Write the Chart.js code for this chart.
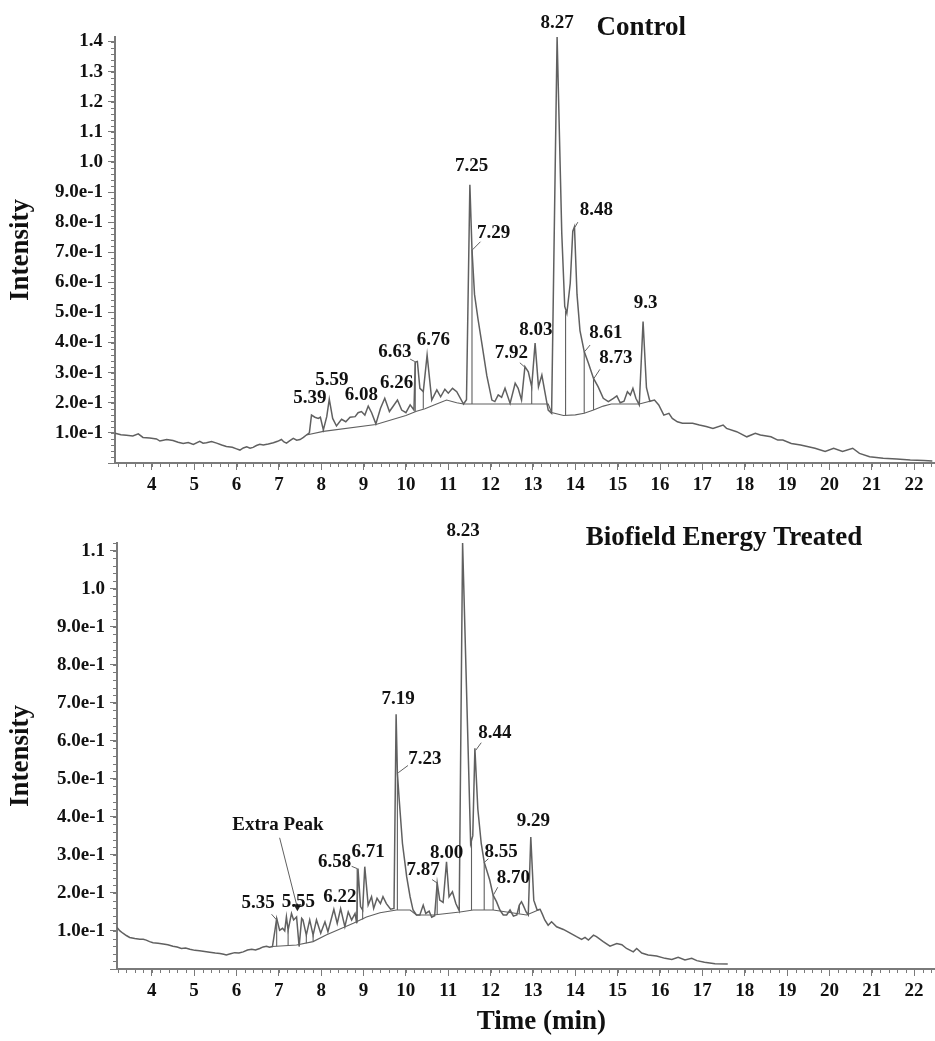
<!DOCTYPE html>
<html>
<head>
<meta charset="utf-8">
<title>GC-MS chromatogram - control vs treated</title>
<script src="https://cdn.jsdelivr.net/npm/chart.js@4.4.1/dist/chart.umd.min.js"></script>
<style>
    body { margin: 0; background: #fff; }
    .panel { position: absolute; left: 0; }
    #topPanel { top: 0; }
    #bottomPanel { top: 500px; }
</style>
</head>
<body>
<div class="panel" id="topPanel"><canvas id="controlChart" width="935" height="500"></canvas></div>
<div class="panel" id="bottomPanel"><canvas id="treatedChart" width="935" height="541"></canvas></div>

<script>
// ---- Control trace (time in min, intensity) ----
const controlTime = [
    3.13, 3.27, 3.40, 3.55, 3.68, 3.79, 3.95, 4.11, 4.19, 4.35, 4.50, 4.62, 4.74, 4.86, 4.98, 5.13,
    5.21, 5.29, 5.41, 5.53, 5.65, 5.76, 5.90, 6.00, 6.08, 6.16, 6.24, 6.32, 6.39, 6.47, 6.55, 6.63,
    6.75, 6.87, 6.97, 7.06, 7.12, 7.18, 7.26, 7.34, 7.42, 7.50, 7.58, 7.65, 7.72, 7.77, 7.85, 7.93,
    7.98, 8.05, 8.13, 8.19, 8.27, 8.36, 8.48, 8.58, 8.68, 8.80, 8.87, 8.95, 9.03, 9.11, 9.19, 9.29,
    9.40, 9.50, 9.61, 9.69, 9.80, 9.90, 10.00, 10.10, 10.19, 10.22, 10.27, 10.33, 10.41, 10.50, 10.61, 10.73,
    10.82, 10.92, 11.00, 11.10, 11.20, 11.36, 11.43, 11.51, 11.56, 11.62, 11.70, 11.79, 11.91, 12.03, 12.10, 12.18,
    12.26, 12.34, 12.46, 12.58, 12.65, 12.73, 12.81, 12.89, 12.97, 13.05, 13.13, 13.21, 13.28, 13.36, 13.44, 13.57,
    13.68, 13.75, 13.80, 13.88, 13.94, 13.98, 14.04, 14.11, 14.21, 14.31, 14.43, 14.54, 14.66, 14.78, 14.90, 14.98,
    15.06, 15.15, 15.23, 15.30, 15.36, 15.43, 15.51, 15.60, 15.68, 15.76, 15.87, 15.97, 16.09, 16.21, 16.29, 16.41,
    16.53, 16.77, 16.93, 17.09, 17.25, 17.49, 17.57, 17.81, 18.05, 18.25, 18.37, 18.62, 18.78, 18.90, 19.10, 19.32,
    19.66, 19.90, 20.10, 20.31, 20.55, 20.71, 20.95, 21.27, 21.59, 21.91, 22.23, 22.43
];
const controlIntensity = [
    0.099, 0.094, 0.092, 0.090, 0.097, 0.085, 0.083, 0.080, 0.073, 0.078, 0.075, 0.069, 0.065, 0.068, 0.062, 0.072,
    0.066, 0.067, 0.071, 0.066, 0.060, 0.055, 0.052, 0.047, 0.043, 0.050, 0.054, 0.049, 0.052, 0.058, 0.062, 0.060,
    0.063, 0.067, 0.072, 0.078, 0.070, 0.066, 0.074, 0.082, 0.076, 0.078, 0.085, 0.093, 0.100, 0.159, 0.152, 0.148,
    0.152, 0.110, 0.154, 0.212, 0.148, 0.123, 0.145, 0.137, 0.152, 0.154, 0.167, 0.171, 0.159, 0.189, 0.167, 0.130,
    0.182, 0.215, 0.171, 0.187, 0.209, 0.176, 0.167, 0.193, 0.176, 0.335, 0.337, 0.248, 0.237, 0.359, 0.209, 0.243,
    0.220, 0.245, 0.232, 0.248, 0.237, 0.196, 0.210, 0.924, 0.708, 0.560, 0.480, 0.400, 0.290, 0.209, 0.204, 0.226,
    0.218, 0.248, 0.198, 0.265, 0.248, 0.209, 0.320, 0.303, 0.253, 0.398, 0.253, 0.292, 0.237, 0.176, 0.165, 1.415,
    0.763, 0.520, 0.497, 0.597, 0.770, 0.785, 0.560, 0.440, 0.370, 0.331, 0.281, 0.253, 0.215, 0.204, 0.215, 0.223,
    0.200, 0.205, 0.237, 0.226, 0.248, 0.215, 0.193, 0.470, 0.250, 0.205, 0.209, 0.193, 0.159, 0.165, 0.148, 0.137,
    0.132, 0.132, 0.126, 0.121, 0.115, 0.126, 0.115, 0.104, 0.087, 0.099, 0.093, 0.087, 0.076, 0.076, 0.065, 0.060,
    0.049, 0.038, 0.049, 0.038, 0.049, 0.032, 0.021, 0.016, 0.013, 0.010, 0.008, 0.007
];
// integration baseline under the peaks
const controlBaseTime = [7.65, 8.05, 9.29, 10.00, 10.25, 10.45, 10.65, 10.96, 11.20, 11.36, 13.36, 13.44, 13.72, 14.00, 14.21, 14.43, 14.66, 14.85, 15.51, 15.76];
const controlBaseIntensity = [0.093, 0.105, 0.128, 0.158, 0.172, 0.180, 0.192, 0.209, 0.200, 0.196, 0.196, 0.168, 0.158, 0.160, 0.165, 0.176, 0.189, 0.196, 0.196, 0.205];
// peak cut lines (trace down to baseline)
const controlDropTime = [8.05, 10.22, 10.41, 11.56, 12.97, 13.77, 14.21, 14.43];
const controlDropTop = [0.110, 0.335, 0.237, 0.708, 0.253, 0.505, 0.370, 0.281];
const controlDropBottom = [0.105, 0.172, 0.180, 0.196, 0.196, 0.158, 0.165, 0.176];
// retention time labels
const controlPeakNames = ['5.39', '5.59', '6.08', '6.26', '6.63', '6.76', '7.25', '7.29', '7.92', '8.03', '8.27', '8.48', '8.61', '8.73', '9.3'];
const controlPeakTime = [7.73, 8.25, 8.95, 9.78, 9.74, 10.65, 11.55, 12.07, 12.49, 13.07, 13.57, 14.50, 14.72, 14.96, 15.66];
const controlPeakLevel = [0.215, 0.276, 0.226, 0.265, 0.370, 0.409, 0.985, 0.763, 0.364, 0.442, 1.460, 0.840, 0.431, 0.348, 0.531];

// ---- Biofield Energy Treated trace ----
const treatedTime = [
    3.18, 3.25, 3.32, 3.40, 3.48, 3.60, 3.72, 3.80, 3.87, 3.95, 4.03, 4.15, 4.27, 4.38, 4.50, 4.60,
    4.70, 4.80, 4.90, 5.02, 5.13, 5.25, 5.37, 5.50, 5.61, 5.70, 5.76, 5.86, 5.96, 6.06, 6.16, 6.26,
    6.36, 6.45, 6.55, 6.63, 6.71, 6.78, 6.85, 6.91, 6.95, 7.02, 7.09, 7.14, 7.18, 7.22, 7.30, 7.35,
    7.42, 7.48, 7.54, 7.57, 7.65, 7.73, 7.81, 7.89, 7.99, 8.09, 8.16, 8.30, 8.38, 8.46, 8.56, 8.64,
    8.72, 8.80, 8.84, 8.87, 8.93, 8.98, 9.03, 9.11, 9.19, 9.24, 9.32, 9.40, 9.46, 9.54, 9.64, 9.72,
    9.77, 9.80, 9.84, 9.92, 10.02, 10.10, 10.17, 10.25, 10.33, 10.41, 10.47, 10.55, 10.61, 10.68, 10.74, 10.80,
    10.88, 10.96, 11.02, 11.10, 11.18, 11.26, 11.34, 11.53, 11.58, 11.63, 11.70, 11.78, 11.85, 11.98, 12.06, 12.14,
    12.22, 12.30, 12.38, 12.46, 12.54, 12.62, 12.68, 12.73, 12.77, 12.84, 12.89, 12.95, 13.02, 13.10, 13.17, 13.22,
    13.28, 13.36, 13.44, 13.56, 13.72, 13.87, 14.03, 14.15, 14.23, 14.31, 14.43, 14.50, 14.66, 14.82, 14.98, 15.10,
    15.21, 15.37, 15.45, 15.57, 15.72, 15.92, 16.12, 16.28, 16.43, 16.59, 16.75, 16.87, 17.05, 17.30, 17.60
];
const treatedIntensity = [
    0.109, 0.100, 0.094, 0.088, 0.083, 0.080, 0.078, 0.078, 0.076, 0.072, 0.069, 0.068, 0.066, 0.064, 0.060, 0.058,
    0.054, 0.055, 0.052, 0.049, 0.048, 0.046, 0.044, 0.042, 0.041, 0.039, 0.037, 0.040, 0.043, 0.042, 0.045, 0.050,
    0.052, 0.050, 0.054, 0.058, 0.060, 0.057, 0.059, 0.102, 0.133, 0.102, 0.107, 0.100, 0.137, 0.102, 0.146, 0.129,
    0.137, 0.059, 0.133, 0.129, 0.089, 0.129, 0.089, 0.129, 0.094, 0.124, 0.098, 0.157, 0.120, 0.159, 0.111, 0.150,
    0.129, 0.146, 0.120, 0.264, 0.164, 0.155, 0.269, 0.168, 0.190, 0.159, 0.186, 0.172, 0.190, 0.172, 0.157, 0.159,
    0.670, 0.516, 0.450, 0.330, 0.242, 0.190, 0.155, 0.142, 0.142, 0.168, 0.146, 0.152, 0.136, 0.140, 0.226, 0.181,
    0.175, 0.282, 0.190, 0.203, 0.172, 0.153, 1.120, 0.330, 0.350, 0.580, 0.420, 0.330, 0.281, 0.234, 0.194, 0.177,
    0.155, 0.142, 0.142, 0.155, 0.139, 0.142, 0.168, 0.177, 0.168, 0.150, 0.142, 0.347, 0.181, 0.155, 0.157, 0.145,
    0.129, 0.115, 0.124, 0.111, 0.104, 0.095, 0.085, 0.078, 0.083, 0.076, 0.089, 0.085, 0.072, 0.060, 0.067, 0.064,
    0.054, 0.045, 0.054, 0.042, 0.037, 0.034, 0.028, 0.025, 0.031, 0.024, 0.028, 0.022, 0.018, 0.014, 0.013
];
const treatedBaseTime = [6.85, 7.42, 7.81, 8.13, 8.50, 8.76, 9.07, 9.39, 9.78, 10.10, 10.25, 10.65, 11.28, 11.59, 12.06, 12.50, 12.85, 13.17];
const treatedBaseIntensity = [0.059, 0.063, 0.072, 0.090, 0.108, 0.120, 0.137, 0.148, 0.155, 0.155, 0.142, 0.142, 0.150, 0.155, 0.155, 0.148, 0.142, 0.157];
const treatedDropTime = [6.95, 7.22, 7.65, 7.81, 8.85, 8.98, 9.80, 10.74, 11.55, 11.85, 12.06, 12.68];
const treatedDropTop = [0.133, 0.102, 0.089, 0.089, 0.264, 0.155, 0.516, 0.226, 0.340, 0.281, 0.194, 0.168];
const treatedDropBottom = [0.060, 0.062, 0.068, 0.072, 0.122, 0.130, 0.155, 0.143, 0.155, 0.155, 0.155, 0.146];
const treatedPeakNames = ['Extra Peak', '5.35', '5.55', '6.22', '6.58', '6.71', '7.19', '7.23', '7.87', '8.00', '8.23', '8.44', '8.55', '8.70', '9.29'];
const treatedPeakTime = [6.98, 6.51, 7.46, 8.44, 8.32, 9.11, 9.82, 10.45, 10.41, 10.96, 11.35, 12.10, 12.25, 12.54, 13.01];
const treatedPeakLevel = [0.378, 0.172, 0.177, 0.190, 0.282, 0.308, 0.710, 0.552, 0.260, 0.304, 1.150, 0.620, 0.308, 0.238, 0.389];

// ---- layout / look ----
const traceColor = '#606060';
const axisColor = '#7a7a7a';
const inkColor = '#111';
const serif = '"Liberation Serif", "Times New Roman", serif';

// leader lines [t1, v1, t2, v2] from label to peak
const controlLeaders = [
    [10.10, 0.345, 10.21, 0.337],
    [11.76, 0.735, 11.57, 0.708],
    [12.69, 0.333, 12.81, 0.318],
    [14.06, 0.800, 13.99, 0.783],
    [14.35, 0.392, 14.22, 0.370],
    [14.58, 0.311, 14.44, 0.281]
];
const treatedLeaders = [
    [7.02, 0.345, 7.43, 0.165],
    [6.83, 0.144, 6.94, 0.130],
    [8.72, 0.270, 8.85, 0.264],
    [10.05, 0.535, 9.82, 0.516],
    [10.62, 0.235, 10.74, 0.226],
    [11.78, 0.595, 11.65, 0.575],
    [11.95, 0.290, 11.86, 0.281],
    [12.17, 0.215, 12.07, 0.195]
];

function toPoints(xs, ys) {
    return xs.map((x, i) => ({ x: x, y: ys[i] }));
}

function dropPoints(times, tops, bottoms) {
    const pts = [];
    times.forEach((t, i) => {
        pts.push({ x: t, y: tops[i] });
        pts.push({ x: t, y: bottoms[i] });
        pts.push({ x: t, y: null });
    });
    return pts;
}

function yTickLabel(value) {
    if (value < 0.05) return '';
    if (value >= 0.999) return value.toFixed(1);
    return value.toExponential(1);
}

// minor ticks, peak labels, leaders and panel titles
function makeDecor(cfg) {
    return {
        id: 'chromDecor',
        afterDraw(chart) {
            const ctx = chart.ctx;
            const xs = chart.scales.x;
            const ys = chart.scales.y;
            const area = chart.chartArea;
            ctx.save();

            ctx.strokeStyle = axisColor;
            ctx.lineWidth = 1;
            ctx.beginPath();
            for (let i = Math.ceil(xs.min * 5); i <= Math.floor(xs.max * 5); i++) {
                const px = Math.round(xs.getPixelForValue(i / 5)) + 0.5;
                ctx.moveTo(px, area.bottom);
                ctx.lineTo(px, area.bottom + 4);
            }
            for (let i = 1; i <= Math.floor(ys.max * 50); i++) {
                const py = Math.round(ys.getPixelForValue(i / 50)) + 0.5;
                ctx.moveTo(area.left, py);
                ctx.lineTo(area.left - 4, py);
            }
            ctx.stroke();

            ctx.strokeStyle = traceColor;
            ctx.lineWidth = 1;
            ctx.beginPath();
            cfg.leaders.forEach((l) => {
                ctx.moveTo(xs.getPixelForValue(l[0]), ys.getPixelForValue(l[1]));
                ctx.lineTo(xs.getPixelForValue(l[2]), ys.getPixelForValue(l[3]));
            });
            ctx.stroke();

            if (cfg.arrowAt) {
                const ax = xs.getPixelForValue(cfg.arrowAt[0]);
                const ay = ys.getPixelForValue(cfg.arrowAt[1]);
                ctx.fillStyle = '#222';
                ctx.beginPath();
                ctx.moveTo(ax - 4, ay - 7);
                ctx.lineTo(ax + 4, ay - 7);
                ctx.lineTo(ax, ay);
                ctx.closePath();
                ctx.fill();
            }

            ctx.fillStyle = inkColor;
            ctx.textAlign = 'center';
            ctx.textBaseline = 'middle';
            ctx.font = 'bold 19px ' + serif;
            cfg.names.forEach((name, i) => {
                ctx.fillText(name, xs.getPixelForValue(cfg.times[i]), ys.getPixelForValue(cfg.levels[i]));
            });

            ctx.font = 'bold 27px ' + serif;
            ctx.textAlign = 'left';
            ctx.fillText(cfg.title, xs.getPixelForValue(cfg.titleAt[0]), ys.getPixelForValue(cfg.titleAt[1]));

            if (cfg.xTitle) {
                ctx.textAlign = 'center';
                ctx.fillText(cfg.xTitle, xs.getPixelForValue(13.2), area.bottom + 53);
            }
            ctx.restore();
        }
    };
}

function renderChromatogram(canvasId, set) {
    const canvas = document.getElementById(canvasId);
    if (!canvas) return;

    const lineStyle = {
        borderColor: traceColor,
        borderWidth: 1.5,
        pointRadius: 0,
        tension: 0,
        fill: false
    };

    new Chart(canvas.getContext('2d'), {
        type: 'line',
        data: {
            datasets: [
                Object.assign({ label: 'trace', data: toPoints(set.time, set.intensity) }, lineStyle),
                Object.assign({ label: 'baseline', data: toPoints(set.baseTime, set.baseIntensity) }, lineStyle, { borderWidth: 1.1 }),
                Object.assign({ label: 'drops', data: dropPoints(set.dropTime, set.dropTop, set.dropBottom), spanGaps: false }, lineStyle, { borderWidth: 1.1 })
            ]
        },
        options: {
            responsive: false,
            animation: false,
            events: [],
            layout: { padding: { top: set.padTop, right: 1, left: 0, bottom: 0 } },
            plugins: { legend: { display: false }, tooltip: { enabled: false } },
            scales: {
                x: {
                    type: 'linear',
                    min: set.xMin,
                    max: 22.47,
                    afterFit: (scale) => { scale.height = set.xAxisHeight; },
                    grid: { drawOnChartArea: false, tickLength: 7, tickColor: axisColor, tickWidth: 1 },
                    border: { color: axisColor, width: 2 },
                    ticks: {
                        stepSize: 1,
                        includeBounds: false,
                        autoSkip: false,
                        maxRotation: 0,
                        padding: 4,
                        color: inkColor,
                        font: { family: serif, weight: 'bold', size: 19 }
                    }
                },
                y: {
                    min: 0,
                    max: set.yMax,
                    afterFit: (scale) => { scale.width = set.yAxisWidth; },
                    grid: { drawOnChartArea: false, tickLength: 7, tickColor: axisColor, tickWidth: 1 },
                    border: { color: axisColor, width: 2 },
                    title: {
                        display: true,
                        text: 'Intensity',
                        color: inkColor,
                        padding: { top: 5, bottom: 0 },
                        font: { family: serif, weight: 'bold', size: 27 }
                    },
                    ticks: {
                        stepSize: 0.1,
                        includeBounds: false,
                        autoSkip: false,
                        padding: 5,
                        color: inkColor,
                        font: { family: serif, weight: 'bold', size: 19 },
                        callback: yTickLabel
                    }
                }
            }
        },
        plugins: [makeDecor(set.decor)]
    });
}

document.addEventListener('DOMContentLoaded', function () {
    renderChromatogram('controlChart', {
        time: controlTime, intensity: controlIntensity,
        baseTime: controlBaseTime, baseIntensity: controlBaseIntensity,
        dropTime: controlDropTime, dropTop: controlDropTop, dropBottom: controlDropBottom,
        xMin: 3.13, yMax: 1.415, padTop: 37, xAxisHeight: 37, yAxisWidth: 115,
        decor: {
            names: controlPeakNames, times: controlPeakTime, levels: controlPeakLevel,
            leaders: controlLeaders, title: 'Control', titleAt: [14.50, 1.444]
        }
    });

    renderChromatogram('treatedChart', {
        time: treatedTime, intensity: treatedIntensity,
        baseTime: treatedBaseTime, baseIntensity: treatedBaseIntensity,
        dropTime: treatedDropTime, dropTop: treatedDropTop, dropBottom: treatedDropBottom,
        xMin: 3.18, yMax: 1.12, padTop: 43, xAxisHeight: 72, yAxisWidth: 117,
        decor: {
            names: treatedPeakNames, times: treatedPeakTime, levels: treatedPeakLevel,
            leaders: treatedLeaders, arrowAt: [7.44, 0.152],
            title: 'Biofield Energy Treated', titleAt: [14.25, 1.134],
            xTitle: 'Time (min)'
        }
    });
});
</script>
</body>
</html>
